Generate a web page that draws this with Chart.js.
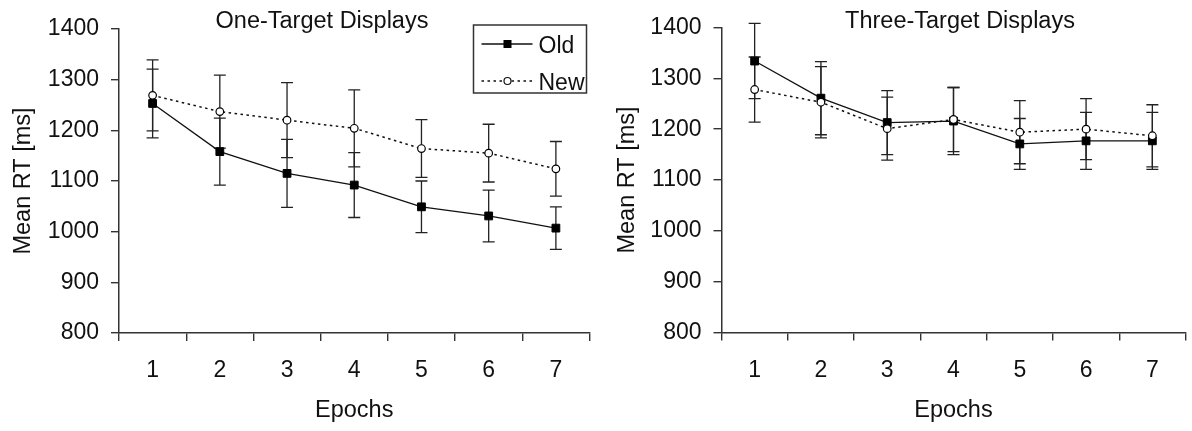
<!DOCTYPE html>
<html>
<head>
<meta charset="utf-8">
<script src="https://cdn.jsdelivr.net/npm/chart.js@4.4.1/dist/chart.umd.min.js"></script>
<style>
  body { margin: 0; background: #fff; }
  .wrap { position: relative; width: 1192px; height: 431px; overflow: hidden; }
  canvas { position: absolute; top: 0; }
</style>
</head>
<body>
<div class="wrap">
  <canvas id="oneTarget" width="596" height="431" style="left:0"></canvas>
  <canvas id="threeTarget" width="596" height="431" style="left:596px"></canvas>
</div>
<script>
const epochs = ['1', '2', '3', '4', '5', '6', '7'];

// One-target displays: means and error (+/-) in ms
const oneOld = [1253, 1158, 1115, 1092, 1049, 1031, 1007];
const oneOldErr = [68, 66, 67, 64, 51, 51, 42];
const oneNew = [1269, 1237, 1220, 1204, 1164, 1155, 1124];
const oneNewErr = [70, 72, 74, 76, 57, 57, 54];

// Three-target displays
const threeOld = [1334, 1261, 1213, 1216, 1171, 1177, 1177];
const threeOldErr = [74, 72, 63, 66, 50, 56, 56];
const threeNew = [1278, 1253, 1201, 1219, 1194, 1200, 1187];
const threeNewErr = [64, 70, 62, 63, 62, 60, 61];

const yTicks = [800, 900, 1000, 1100, 1200, 1300, 1400];

const FONT = '"Liberation Sans", Arial, sans-serif';
const INK = '#111';
const AXIS = '#333';

// error bars under the lines
const errorBars = {
  id: 'errorBars',
  beforeDatasetsDraw(chart) {
    const ctx = chart.ctx;
    const y = chart.scales.y;
    chart.data.datasets.forEach((ds, i) => {
      if (!ds.errors) return;
      const meta = chart.getDatasetMeta(i);
      ctx.save();
      ctx.strokeStyle = '#222';
      ctx.lineWidth = 1.3;
      meta.data.forEach((pt, j) => {
        const top = y.getPixelForValue(ds.data[j] + ds.errors[j]);
        const bot = y.getPixelForValue(ds.data[j] - ds.errors[j]);
        ctx.beginPath();
        ctx.moveTo(pt.x, top); ctx.lineTo(pt.x, bot);
        ctx.moveTo(pt.x - 6, top); ctx.lineTo(pt.x + 6, top);
        ctx.moveTo(pt.x - 6, bot); ctx.lineTo(pt.x + 6, bot);
        ctx.stroke();
      });
      ctx.restore();
    });
  }
};

// boxed legend in the top right corner of the plot
const boxLegend = {
  id: 'boxLegend',
  afterDraw(chart, args, opts) {
    if (!opts.display) return;
    const { ctx, chartArea } = chart;
    const w = 113, h = 68;
    const x0 = chartArea.right - 3 - w;
    const y0 = chartArea.top - 4;
    ctx.save();
    ctx.fillStyle = '#fff';
    ctx.fillRect(x0, y0, w, h);
    ctx.strokeStyle = AXIS;
    ctx.lineWidth = 1.5;
    ctx.strokeRect(x0, y0, w, h);
    chart.data.datasets.forEach((ds, i) => {
      const cy = y0 + 19 + i * 37;
      ctx.strokeStyle = INK;
      ctx.lineWidth = ds.borderWidth;
      ctx.setLineDash(ds.borderDash || []);
      ctx.beginPath();
      ctx.moveTo(x0 + 8, cy); ctx.lineTo(x0 + 59, cy);
      ctx.stroke();
      ctx.setLineDash([]);
      const mx = x0 + 34;
      ctx.fillStyle = ds.pointBackgroundColor;
      ctx.lineWidth = 1.2;
      if (ds.pointStyle === 'rect') {
        ctx.fillRect(mx - 4, cy - 4, 8, 8);
      } else {
        ctx.beginPath();
        ctx.arc(mx, cy, 3.5, 0, Math.PI * 2);
        ctx.fill(); ctx.stroke();
      }
      ctx.fillStyle = INK;
      ctx.font = '23px ' + FONT;
      ctx.textBaseline = 'alphabetic';
      ctx.textAlign = 'left';
      ctx.fillText(ds.label, x0 + 65, cy + 9);
    });
    ctx.restore();
  }
};

const panelTitle = {
  id: 'panelTitle',
  afterDraw(chart, args, opts) {
    const ctx = chart.ctx;
    ctx.save();
    ctx.fillStyle = INK;
    ctx.font = '23.5px ' + FONT;
    ctx.textAlign = 'center';
    ctx.textBaseline = 'alphabetic';
    ctx.fillText(opts.text, opts.x, opts.y);
    ctx.restore();
  }
};

function makeChart(id, title, oldVals, oldErr, newVals, newErr, cfg) {
  return new Chart(document.getElementById(id), {
    type: 'line',
    data: {
      labels: epochs,
      datasets: [
        {
          label: 'Old',
          data: oldVals,
          errors: oldErr,
          order: 1,
          borderColor: INK,
          borderWidth: 1.3,
          tension: 0,
          pointStyle: 'rect',
          pointRadius: 5.5,
          pointBackgroundColor: '#000',
          pointBorderColor: '#000',
          pointBorderWidth: 1
        },
        {
          label: 'New',
          data: newVals,
          errors: newErr,
          order: 0,
          borderColor: INK,
          borderWidth: 1.5,
          borderDash: [2.5, 3.5],
          tension: 0,
          pointStyle: 'circle',
          pointRadius: 3.8,
          pointBackgroundColor: '#fff',
          pointBorderColor: '#000',
          pointBorderWidth: 1.2
        }
      ]
    },
    options: {
      responsive: false,
      animation: false,
      devicePixelRatio: 1,
      layout: { padding: { left: 0, right: cfg.padRight, top: cfg.top, bottom: 0 } },
      plugins: {
        legend: { display: false },
        tooltip: { enabled: false },
        boxLegend: { display: cfg.legend },
        panelTitle: { text: title, x: cfg.titleX, y: 28 }
      },
      scales: {
        x: {
          type: 'category',
          offset: true,
          afterFit(scale) { scale.height = 431 - cfg.bottom; },
          grid: { offset: true, drawOnChartArea: false, drawTicks: true, tickLength: 8, color: AXIS, lineWidth: 1.4 },
          border: { color: AXIS, width: 1.5 },
          ticks: { color: INK, font: { family: FONT, size: 23 }, padding: 16 },
          title: { display: true, text: 'Epochs', color: INK, font: { family: FONT, size: 23.5 }, padding: 6 }
        },
        y: {
          min: yTicks[0],
          max: yTicks[yTicks.length - 1],
          afterFit(scale) { scale.width = cfg.yWidth; },
          afterBuildTicks(scale) { scale.ticks = yTicks.map(v => ({ value: v })); },
          grid: { drawOnChartArea: false, drawTicks: true, tickLength: 8, color: AXIS, lineWidth: 1.4 },
          border: { color: AXIS, width: 1.5 },
          ticks: {
            color: INK,
            font: { family: FONT, size: 23 },
            padding: 12,
            callback: v => String(v)
          },
          title: { display: true, text: 'Mean RT [ms]', color: INK, font: { family: FONT, size: 23.5 }, padding: cfg.yTitlePad }
        }
      }
    },
    plugins: [errorBars, boxLegend, panelTitle]
  });
}

makeChart('oneTarget', 'One-Target Displays', oneOld, oneOldErr, oneNew, oneNewErr,
  { padRight: 6, top: 29, bottom: 333, yWidth: 119, yTitlePad: 9, legend: true, titleX: 322 });
makeChart('threeTarget', 'Three-Target Displays', threeOld, threeOldErr, threeNew, threeNewErr,
  { padRight: 1.5, top: 27.5, bottom: 332.5, yWidth: 125.5, yTitlePad: 17, legend: false, titleX: 364 });
</script>
</body>
</html>
